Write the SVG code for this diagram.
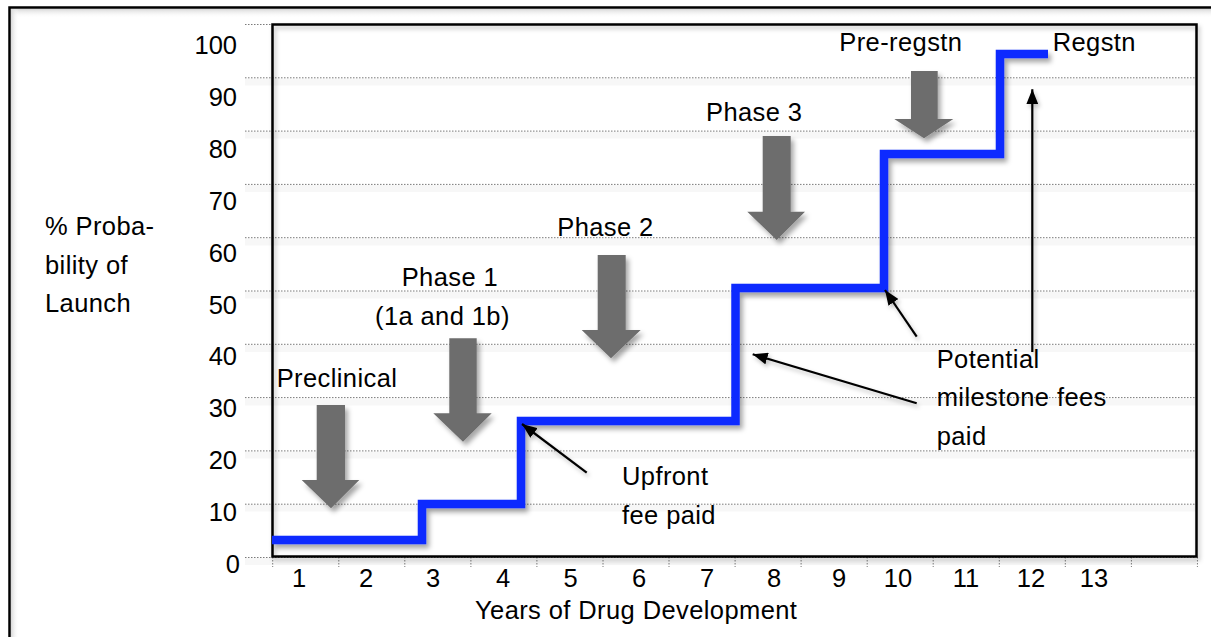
<svg xmlns="http://www.w3.org/2000/svg" width="1211" height="637" viewBox="0 0 1211 637">
<defs>
<style>
.t{font-family:"Liberation Sans",Arial,sans-serif;font-size:25.5px;letter-spacing:0.4px;fill:#000}
.yl{text-anchor:end;letter-spacing:0}
.xl{text-anchor:middle;letter-spacing:0}
.grid{stroke:#7a7a7a;stroke-width:1;stroke-dasharray:1.5,1.5;fill:none}
.gshadow{stroke:#f7f7f7;stroke-width:7;fill:none}
.blk{fill:#6d6d6d;filter:url(#sh)}
.call{stroke:#000;stroke-width:2.2;fill:none;marker-end:url(#ah)}
</style>
<filter id="sh" x="-20%" y="-20%" width="150%" height="150%">
<feDropShadow dx="3" dy="4" stdDeviation="2.5" flood-color="#000" flood-opacity="0.35"/>
</filter>
<filter id="shs" x="-5%" y="-5%" width="110%" height="115%">
<feDropShadow dx="2" dy="3" stdDeviation="2" flood-color="#000" flood-opacity="0.25"/>
</filter>
<marker id="ah" markerUnits="userSpaceOnUse" markerWidth="16" markerHeight="12" refX="15" refY="6" orient="auto">
<path d="M0,0 L15,6 L0,12 Z" fill="#000"/>
</marker>
<linearGradient id="gt" x1="0" y1="0" x2="0" y2="1"><stop offset="0" stop-color="#d8d8d8"/><stop offset="1" stop-color="#fff" stop-opacity="0"/></linearGradient>
<linearGradient id="gl" x1="0" y1="0" x2="1" y2="0"><stop offset="0" stop-color="#d8d8d8"/><stop offset="1" stop-color="#fff" stop-opacity="0"/></linearGradient>
</defs>
<rect width="1211" height="637" fill="#fff"/>
<g id="frame">
<rect x="11" y="9" width="1200" height="9" fill="url(#gt)"/>
<rect x="11" y="9" width="8" height="628" fill="url(#gl)"/>
<rect x="9.5" y="7.5" width="1210" height="640" fill="none" stroke="#000" stroke-width="2.5"/>
</g>
<g id="grid">
<path class="gshadow" d="M245,82 H1196 M245,135 H1196 M245,188.5 H1196 M245,242 H1196 M245,295 H1196 M245,348.5 H1196 M245,402 H1196 M245,455 H1196 M245,508 H1196 M245,561.5 H1196"/>
<path class="grid" d="M245,24.5 H1196 M245,77.8 H1196 M245,131.1 H1196 M245,184.4 H1196 M245,237.7 H1196 M245,291 H1196 M245,344.3 H1196 M245,397.6 H1196 M245,450.9 H1196 M245,504.2 H1196 M245,557.5 H1196"/>
<path class="grid" d="M272.7,557 V567 M338.8,557 V567 M404.8,557 V567 M470.9,557 V567 M536.9,557 V567 M603,557 V567 M669,557 V567 M735.1,557 V567 M801.1,557 V567 M867.2,557 V567 M933.2,557 V567 M999.3,557 V567 M1065.3,557 V567 M1131.4,557 V567 M1197.4,557 V567"/>
</g>
<g id="plot-frame">
<rect x="272.5" y="24.5" width="924" height="532" fill="none" stroke="#000" stroke-width="2.5" filter="url(#shs)"/>
</g>
<g id="y-axis-labels" class="t yl">
<text x="237" y="54.3">100</text>
<text x="237" y="106.1">90</text>
<text x="237" y="158">80</text>
<text x="237" y="209.8">70</text>
<text x="237" y="261.7">60</text>
<text x="237" y="313.5">50</text>
<text x="237" y="365.3">40</text>
<text x="237" y="417.2">30</text>
<text x="237" y="469">20</text>
<text x="237" y="520.9">10</text>
<text x="240" y="573">0</text>
</g>
<g id="x-axis-labels" class="t xl">
<text x="299" y="587">1</text>
<text x="366" y="587">2</text>
<text x="433" y="587">3</text>
<text x="503" y="587">4</text>
<text x="570.5" y="587">5</text>
<text x="639" y="587">6</text>
<text x="707" y="587">7</text>
<text x="774" y="587">8</text>
<text x="839" y="587">9</text>
<text x="898" y="587">10</text>
<text x="966" y="587">11</text>
<text x="1031" y="587">12</text>
<text x="1094" y="587">13</text>
</g>
<g id="axis-titles" class="t">
<text x="475" y="619">Years of Drug Development</text>
<text x="45" y="235">% Proba-</text>
<text x="45" y="273.5">bility of</text>
<text x="45" y="312.3">Launch</text>
</g>
<g id="probability-line">
<path d="M272,540 H422 V504 H521 V421 H735.5 V288 H884 V154 H1000 V54 H1048" fill="none" stroke="#0b2bff" stroke-width="8.5" stroke-linejoin="miter" filter="url(#sh)"/>
</g>
<g id="phase-arrows">
<path id="arrow-preclinical" class="blk" d="M316.7,405 H345 V480 H359.3 L331,508.3 L301.7,480 H316.7 Z"/>
<path id="arrow-phase1" class="blk" d="M449.3,338.3 H476.7 V413.3 H491.7 L463,441.7 L433.3,413.3 H449.3 Z"/>
<path id="arrow-phase2" class="blk" d="M597.7,255 H625.7 V330 H640.7 L611,358.3 L581.7,330 H597.7 Z"/>
<path id="arrow-phase3" class="blk" d="M762.7,136 H790.7 V211.7 H805 L776.7,240 L747.3,211.7 H762.7 Z"/>
<path id="arrow-preregstn" class="blk" d="M911,71 H937.7 V119 H953.3 L924,138.3 L894.3,119 H911 Z"/>
</g>
<g id="phase-labels" class="t">
<text x="276.7" y="386.7">Preclinical</text>
<text x="401.7" y="286">Phase 1</text>
<text x="375" y="325">(1a and 1b)</text>
<text x="557.3" y="236">Phase 2</text>
<text x="706" y="120.5">Phase 3</text>
<text x="839.3" y="51">Pre-regstn</text>
<text x="1052.7" y="51">Regstn</text>
</g>
<g id="annotations" class="t">
<text x="622" y="485">Upfront</text>
<text x="622" y="524.3">fee paid</text>
<text x="936.7" y="367.7">Potential</text>
<text x="936.7" y="405.7">milestone fees</text>
<text x="936.7" y="445">paid</text>
</g>
<g id="connectors" filter="url(#shs)">
<line class="call" x1="586.7" y1="472.7" x2="522" y2="424"/>
<line class="call" x1="916.7" y1="403.3" x2="752.7" y2="354.3"/>
<line class="call" x1="916.7" y1="336.7" x2="885" y2="290"/>
<line class="call" x1="1032.3" y1="352" x2="1032.3" y2="89.3"/>
</g>
</svg>
